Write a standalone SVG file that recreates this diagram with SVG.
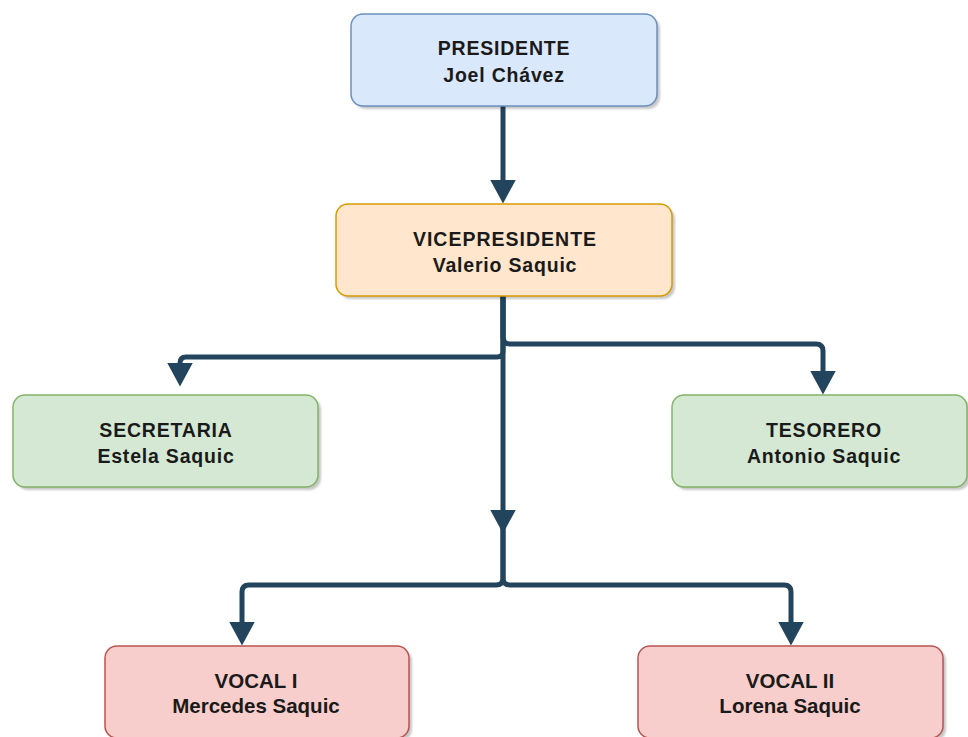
<svg xmlns="http://www.w3.org/2000/svg" width="968" height="737" viewBox="0 0 968 737">
  <defs>
    <style>
      .box { stroke-width: 1.5; }
      .blue { fill: #dae8fc; stroke: #6c8ebf; }
      .orange { fill: #ffe6cc; stroke: #d79b00; }
      .green { fill: #d5e8d4; stroke: #82b366; }
      .red { fill: #f8cecc; stroke: #b85450; }
      .shadow { fill: #000; opacity: 0.22; filter: url(#blur); }
      .t { font-family: "Liberation Sans", Arial, sans-serif; font-weight: bold; font-size: 19.5px; letter-spacing: 0.8px; fill: #1a1a1a; text-anchor: middle; }
      .tb { font-family: "Liberation Sans", Arial, sans-serif; font-weight: bold; font-size: 20.5px; fill: #1a1a1a; text-anchor: middle; }
      .edge { fill: none; stroke: #23445d; stroke-width: 5; stroke-linejoin: round; marker-end: url(#arrow); }
      .plain { fill: none; stroke: #23445d; stroke-width: 5; stroke-linejoin: round; }
    </style>
    <filter id="blur" x="-10%" y="-10%" width="120%" height="130%">
      <feGaussianBlur stdDeviation="1.2"/>
    </filter>
    <marker id="arrow" viewBox="0 0 24 26" refX="0.5" refY="13" markerWidth="24" markerHeight="26" markerUnits="userSpaceOnUse" orient="auto">
      <path d="M0,0 L24,13 L0,26 Z" fill="#23445d"/>
    </marker>
  </defs>
  <rect width="968" height="737" fill="#ffffff"/>

  <g id="connectors">
    <path class="edge" d="M503,106 V180"/>
    <path class="edge" d="M503,296 V351 Q503,357 497,357 H186 Q180,357 180,363"/>
    <path class="edge" d="M503,296 V337 Q503,344 510,344 H816 Q823,344 823,351 V371"/>
    <path class="edge" d="M503,296 V510"/>
    <path class="edge" d="M503,528 V578 Q503,585 496,585 H249 Q242,585 242,592 V622"/>
    <path class="edge" d="M503,528 V578 Q503,585 510,585 H784 Q791,585 791,592 V622"/>
  </g>

  <g id="presidente">
    <rect class="shadow" x="354" y="17" width="306" height="92" rx="12"/>
    <rect class="box blue" x="351" y="14" width="306" height="92" rx="12"/>
    <text class="t" x="504" y="55">PRESIDENTE</text>
    <text class="t" x="504" y="82">Joel Chávez</text>
  </g>

  <g id="vicepresidente">
    <rect class="shadow" x="339" y="207" width="336" height="92" rx="12"/>
    <rect class="box orange" x="336" y="204" width="336" height="92" rx="12"/>
    <text class="t" x="505" y="246" style="letter-spacing:1px">VICEPRESIDENTE</text>
    <text class="t" x="505" y="272">Valerio Saquic</text>
  </g>

  <g id="secretaria">
    <rect class="shadow" x="16" y="398" width="305" height="92" rx="12"/>
    <rect class="box green" x="13" y="395" width="305" height="92" rx="12"/>
    <text class="t" x="166" y="437">SECRETARIA</text>
    <text class="t" x="166" y="463">Estela Saquic</text>
  </g>

  <g id="tesorero">
    <rect class="shadow" x="675" y="398" width="295" height="92" rx="12"/>
    <rect class="box green" x="672" y="395" width="295" height="92" rx="12"/>
    <text class="t" x="824" y="437">TESORERO</text>
    <text class="t" x="824" y="463">Antonio Saquic</text>
  </g>

  <g id="vocal1">
    <rect class="shadow" x="108" y="649" width="304" height="92" rx="12"/>
    <rect class="box red" x="105" y="646" width="304" height="92" rx="12"/>
    <text class="tb" x="256" y="688">VOCAL I</text>
    <text class="tb" x="256" y="713">Mercedes Saquic</text>
  </g>

  <g id="vocal2">
    <rect class="shadow" x="641" y="649" width="305" height="92" rx="12"/>
    <rect class="box red" x="638" y="646" width="305" height="92" rx="12"/>
    <text class="tb" x="790" y="688">VOCAL II</text>
    <text class="tb" x="790" y="713">Lorena Saquic</text>
  </g>
</svg>
